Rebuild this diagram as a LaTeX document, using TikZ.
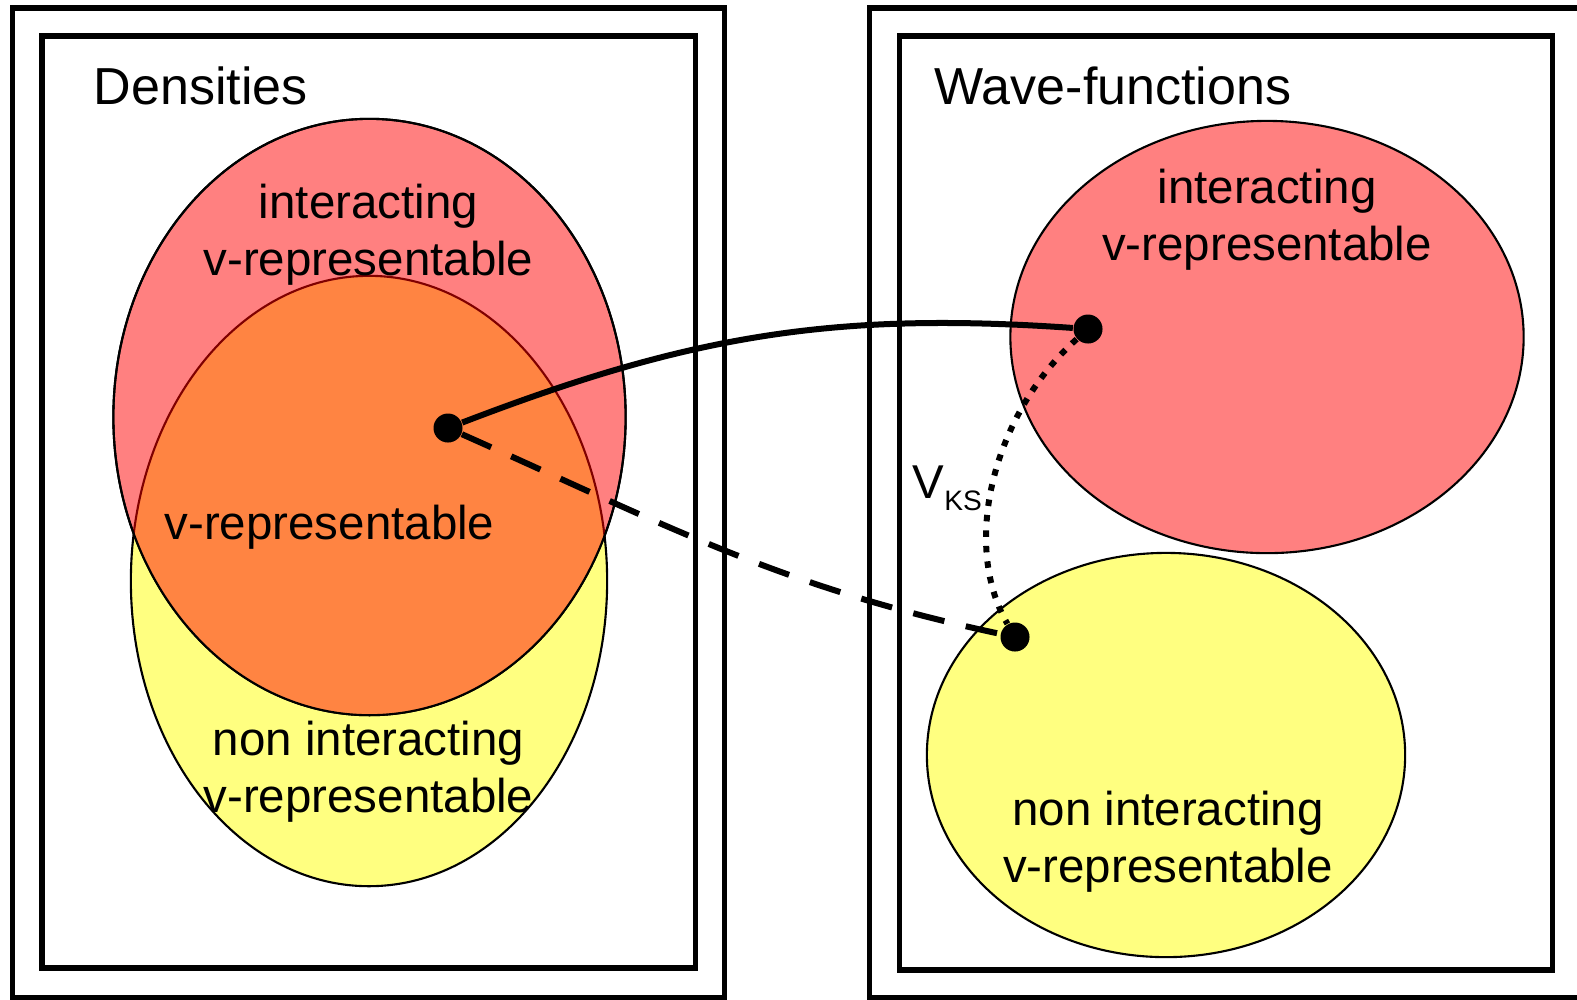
\documentclass[tikz,border=0pt]{standalone}
\usepackage{fontspec}
\setmainfont{Liberation Sans}
\usetikzlibrary{positioning}
\definecolor{intfill}{RGB}{255,128,128}
\definecolor{nonfill}{RGB}{255,255,128}
\definecolor{bothfill}{RGB}{255,132,66}
\definecolor{bothline}{RGB}{128,0,0}
\tikzset{
  frame/.style  ={draw, line width=0.055cm},
  setline/.style={draw, line width=0.6pt},
  title/.style  ={font=\fontsize{14.8pt}{17pt}\selectfont, anchor=base west, inner sep=0pt},
  lbl/.style    ={font=\fontsize{13.5pt}{16.2pt}\selectfont, align=center, anchor=base, inner sep=0pt},
  pt/.style     ={circle, fill, inner sep=0pt, minimum size=0.29cm},
  map/.style    ={line width=0.06cm},
  dashmap/.style={line width=0.06cm, dash pattern=on 0.32cm off 0.22cm},
  dotmap/.style ={line width=0.06cm, dash pattern=on 0.065cm off 0.09cm}
}

\begin{document}
\begin{tikzpicture}[x=0.01cm, y=-0.01cm]
  \useasboundingbox (0,0) rectangle (1577,999);
  \clip (0,0) rectangle (1577,999);
  \draw[frame] (12.5,8) rectangle (724.5,998);
  \draw[frame] (42,36) rectangle (695.5,968);
  \draw[frame] (869.5,8) rectangle (1600,998);
  \draw[frame] (899.5,36) rectangle (1552.5,970);
  % densities
  \path[setline, fill=nonfill] (369,581) ellipse [x radius=2.38cm, y radius=3.05cm];
  \path[setline, fill=intfill] (369.5,417) ellipse [x radius=2.56cm, y radius=2.98cm];
  \begin{scope}
    \clip (369.5,417) ellipse [x radius=2.56cm, y radius=2.98cm];
    \path[setline, draw=bothline, fill=bothfill] (369,581) ellipse [x radius=2.38cm, y radius=3.05cm];
  \end{scope}
  \path[setline] (369.5,417) ellipse [x radius=2.56cm, y radius=2.98cm];
  % wave-functions
  \path[setline, fill=intfill] (1267,337) ellipse [x radius=2.565cm, y radius=2.16cm];
  \path[setline, fill=nonfill] (1166,755) ellipse [x radius=2.39cm, y radius=2.02cm];
  \node[title] (dens) at (93,104) {Densities};
  \node[title] (wave) at (934,104) {Wave-functions};
  \node[lbl] (lint) at (368.5,275) {interacting\\v-representable};
  \node[lbl] (lboth) at (329.5,539) {v-representable};
  \node[lbl] (lnon) at (368.5,812) {non interacting\\v-representable};
  \node[lbl] (rint) at (1267,260) {interacting\\v-representable};
  \node[lbl] (rnon) at (1168,882) {non interacting\\v-representable};
  \node[lbl, anchor=base west] (vks) at (912,498) {V\raisebox{-0.12cm}{\fontsize{8pt}{8pt}\selectfont KS}};
  \node[pt] (n) at (448,428) {};
  \node[pt] (psi) at (1088,329) {};
  \node[pt] (phi) at (1015,637) {};
  \draw[map] (n) to[out=21, in=176] (psi);
  \draw[dashmap] (n) to[out=-24, in=168] (phi);
  \draw[dotmap] (psi) .. controls (995,412) and (960,542) .. (phi);
\end{tikzpicture}
\end{document}
